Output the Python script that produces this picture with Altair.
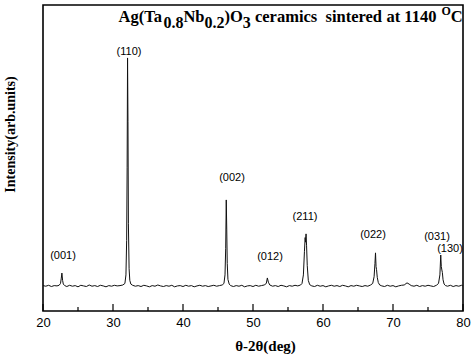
import altair as alt
import pandas as pd

# ---- XRD pattern (2theta in degrees, intensity in arbitrary units) ----
two_theta = [
    20.0, 20.4, 20.8, 21.2, 21.6, 22.0, 22.3,
    22.5, 22.6, 22.7, 22.8, 22.9, 23.1,
    23.4, 23.8, 24.2, 24.6, 25.0, 25.4, 25.8, 26.2, 26.6, 27.0, 27.4, 27.8,
    28.2, 28.6, 29.0, 29.4, 29.8, 30.2, 30.6, 31.0, 31.4,
    31.7, 31.85, 31.95, 32.02, 32.08, 32.14, 32.2, 32.3, 32.4, 32.55, 32.8,
    33.2, 33.6, 34.0, 34.4, 34.8, 35.2, 35.6, 36.0, 36.4, 36.8, 37.2, 37.6,
    38.0, 38.4, 38.8, 39.2, 39.6, 40.0, 40.4, 40.8, 41.2, 41.6, 42.0, 42.4,
    42.8, 43.2, 43.6, 44.0, 44.4, 44.8, 45.2, 45.6,
    45.85, 46.0, 46.1, 46.18, 46.25, 46.32, 46.42, 46.6, 46.8,
    47.2, 47.6, 48.0, 48.4, 48.8, 49.2, 49.6, 50.0, 50.4, 50.8, 51.2, 51.6,
    51.9, 52.05, 52.2, 52.4,
    52.8, 53.2, 53.6, 54.0, 54.4, 54.8, 55.2, 55.6, 56.0, 56.4, 56.8,
    57.0, 57.2, 57.35, 57.45, 57.5, 57.58, 57.65, 57.75, 57.9, 58.1,
    58.4, 58.8, 59.2, 59.6, 60.0, 60.4, 60.8, 61.2, 61.6, 62.0, 62.4, 62.8,
    63.2, 63.6, 64.0, 64.4, 64.8, 65.2, 65.6, 66.0, 66.4, 66.8,
    67.1, 67.3, 67.42, 67.5, 67.58, 67.65, 67.75, 67.9, 68.1,
    68.4, 68.8, 69.2, 69.6, 70.0, 70.4, 70.8, 71.2, 71.6, 72.0, 72.3, 72.6,
    73.0, 73.4, 73.8, 74.2, 74.6, 75.0, 75.4, 75.8, 76.2,
    76.5, 76.7, 76.82, 76.9, 76.98, 77.05, 77.15, 77.3, 77.5,
    77.8, 78.2, 78.6, 79.0, 79.4, 79.8, 80.0,
]
intensity = [
    83, 81, 84, 80, 83, 82, 84,
    90, 105, 124, 100, 88, 83,
    80, 84, 81, 83, 79, 84, 82, 80, 85, 81, 83, 80,
    84, 82, 79, 83, 81, 84, 82, 83, 85,
    90, 118, 230, 470, 827, 620, 285, 138, 100, 88, 84,
    81, 83, 80, 84, 82, 79, 83, 81, 85, 82, 80, 83,
    81, 84, 79, 82, 83, 80, 84, 81, 83, 79, 82, 84,
    81, 83, 80, 82, 84, 81, 83, 85,
    90, 118, 205, 363, 265, 155, 103, 88, 83,
    80, 83, 81, 84, 79, 82, 83, 80, 84, 81, 83, 85,
    90, 108, 94, 85,
    81, 83, 80, 84, 82, 79, 83, 81, 84, 82, 85,
    90, 118, 195, 240, 225, 252, 215, 148, 100, 86,
    82, 80, 84, 81, 83, 79, 82, 84, 81, 83, 80, 84,
    82, 79, 83, 81, 84, 82, 80, 83, 81, 85,
    90, 112, 155, 190, 145, 135, 110, 93, 85,
    82, 80, 84, 81, 83, 79, 82, 84, 85, 92, 88, 83,
    81, 84, 80, 83, 81, 84, 82, 80, 84,
    90, 118, 183, 145, 134, 126, 102, 88, 83,
    81, 84, 80, 83, 81, 84, 82,
]

# ---- peak (hkl) labels ----
peak_labels = ["(001)", "(110)", "(002)", "(012)", "(211)", "(022)", "(031)", "(130)"]
label_x = [22.86, 32.29, 47.0, 52.43, 57.43, 67.14, 76.29, 78.14]
label_y = [180, 846, 435, 176, 307, 248, 242, 203]

# ---- axis ticks ----
major_ticks = [20, 30, 40, 50, 60, 70, 80]
minor_ticks = [25, 35, 45, 55, 65, 75]

# ---- title pieces (main / sub / sup); " " entries are gaps ----
title_parts = ["Ag(Ta", "0.8", "Nb", "0.2", ")O", "3", " ", "ceramics", "  ",
               "sintered", " ", "at", " ", "1140", " ", "O", "C"]
title_roles = ["main", "sub", "main", "sub", "main", "sub", "main", "main", "main",
               "main", "main", "main", "main", "main", "main", "sup", "main"]

W, H = 420, 306

# Times/Liberation Serif Bold advance widths (per 1000 em)
tnr_bold = {
    "A": 722, "g": 500, "(": 333, ")": 333, "T": 667, "a": 500, "0": 500, ".": 250,
    "8": 500, "N": 722, "b": 556, "2": 500, "O": 778, "3": 500, " ": 250,
    "c": 444, "e": 444, "r": 444, "m": 833, "i": 278, "s": 389, "n": 556,
    "t": 333, "d": 556, "1": 500, "4": 500, "C": 722,
}
role_style = {"main": (16.5, 16.5), "sub": (16.0, 22.5), "sup": (12.0, 10.0)}

df = pd.DataFrame({"t": two_theta, "i": intensity})
lab = pd.DataFrame({"t": label_x, "i": label_y, "lab": peak_labels})

x_enc = alt.X(
    "t:Q",
    scale=alt.Scale(domain=[20, 80], nice=False, zero=False),
    axis=alt.Axis(
        values=major_ticks, format="d", grid=False, ticks=False, domain=False,
        labelFont="Liberation Sans", labelFontSize=13, labelColor="black",
        labelPadding=5, labelFlush=False, labelOverlap=False,
        title="θ-2θ(deg)", titleFont="Liberation Serif", titleFontWeight="bold",
        titleFontSize=15, titleColor="black", titleX=222, titleY=34,
        titleBaseline="middle",
    ),
)
y_enc = alt.Y(
    "i:Q",
    scale=alt.Scale(domain=[0, 1000], nice=False, zero=False),
    axis=alt.Axis(
        labels=False, ticks=False, domain=False, grid=False,
        title="Intensity(arb.units)", titleFont="Liberation Serif",
        titleFontWeight="bold", titleFontSize=14, titleColor="black",
        titleX=-33, titleY=129, titleBaseline="middle",
    ),
)

line = alt.Chart(df).mark_line(color="#111111", strokeWidth=1.0).encode(x=x_enc, y=y_enc)

labels = alt.Chart(lab).mark_text(
    font="Liberation Sans", fontSize=11, color="black", baseline="middle", align="center"
).encode(x="t:Q", y="i:Q", text="lab:N")

maj = alt.Chart(pd.DataFrame({"t": major_ticks})).mark_rule(color="black", strokeWidth=1.2).encode(
    x="t:Q", y=alt.value(H), y2=alt.value(H - 7)
)
mnr = alt.Chart(pd.DataFrame({"t": minor_ticks})).mark_rule(color="black", strokeWidth=1.2).encode(
    x="t:Q", y=alt.value(H), y2=alt.value(H - 4)
)

title_layers = []
xpos = 75.5
for txt, role in zip(title_parts, title_roles):
    fs, by = role_style[role]
    if txt.strip():
        title_layers.append(
            alt.Chart(pd.DataFrame({"s": [txt]})).mark_text(
                font="Liberation Serif", fontWeight="bold", fontSize=fs, color="black",
                align="left", baseline="alphabetic",
            ).encode(text="s:N", x=alt.value(xpos), y=alt.value(by))
        )
    xpos += sum(tnr_bold.get(ch, 500) for ch in txt) * fs / 1000.0

chart = alt.layer(line, labels, maj, mnr, *title_layers).properties(
    width=W, height=H,
    autosize=alt.AutoSizeParams(type="none"),
    padding={"left": 43, "top": 5, "right": 11, "bottom": 44},
    background="white",
).configure_view(stroke="black", strokeWidth=1.6)

chart.save("out.html", embed_options={"renderer": "svg", "actions": False})
